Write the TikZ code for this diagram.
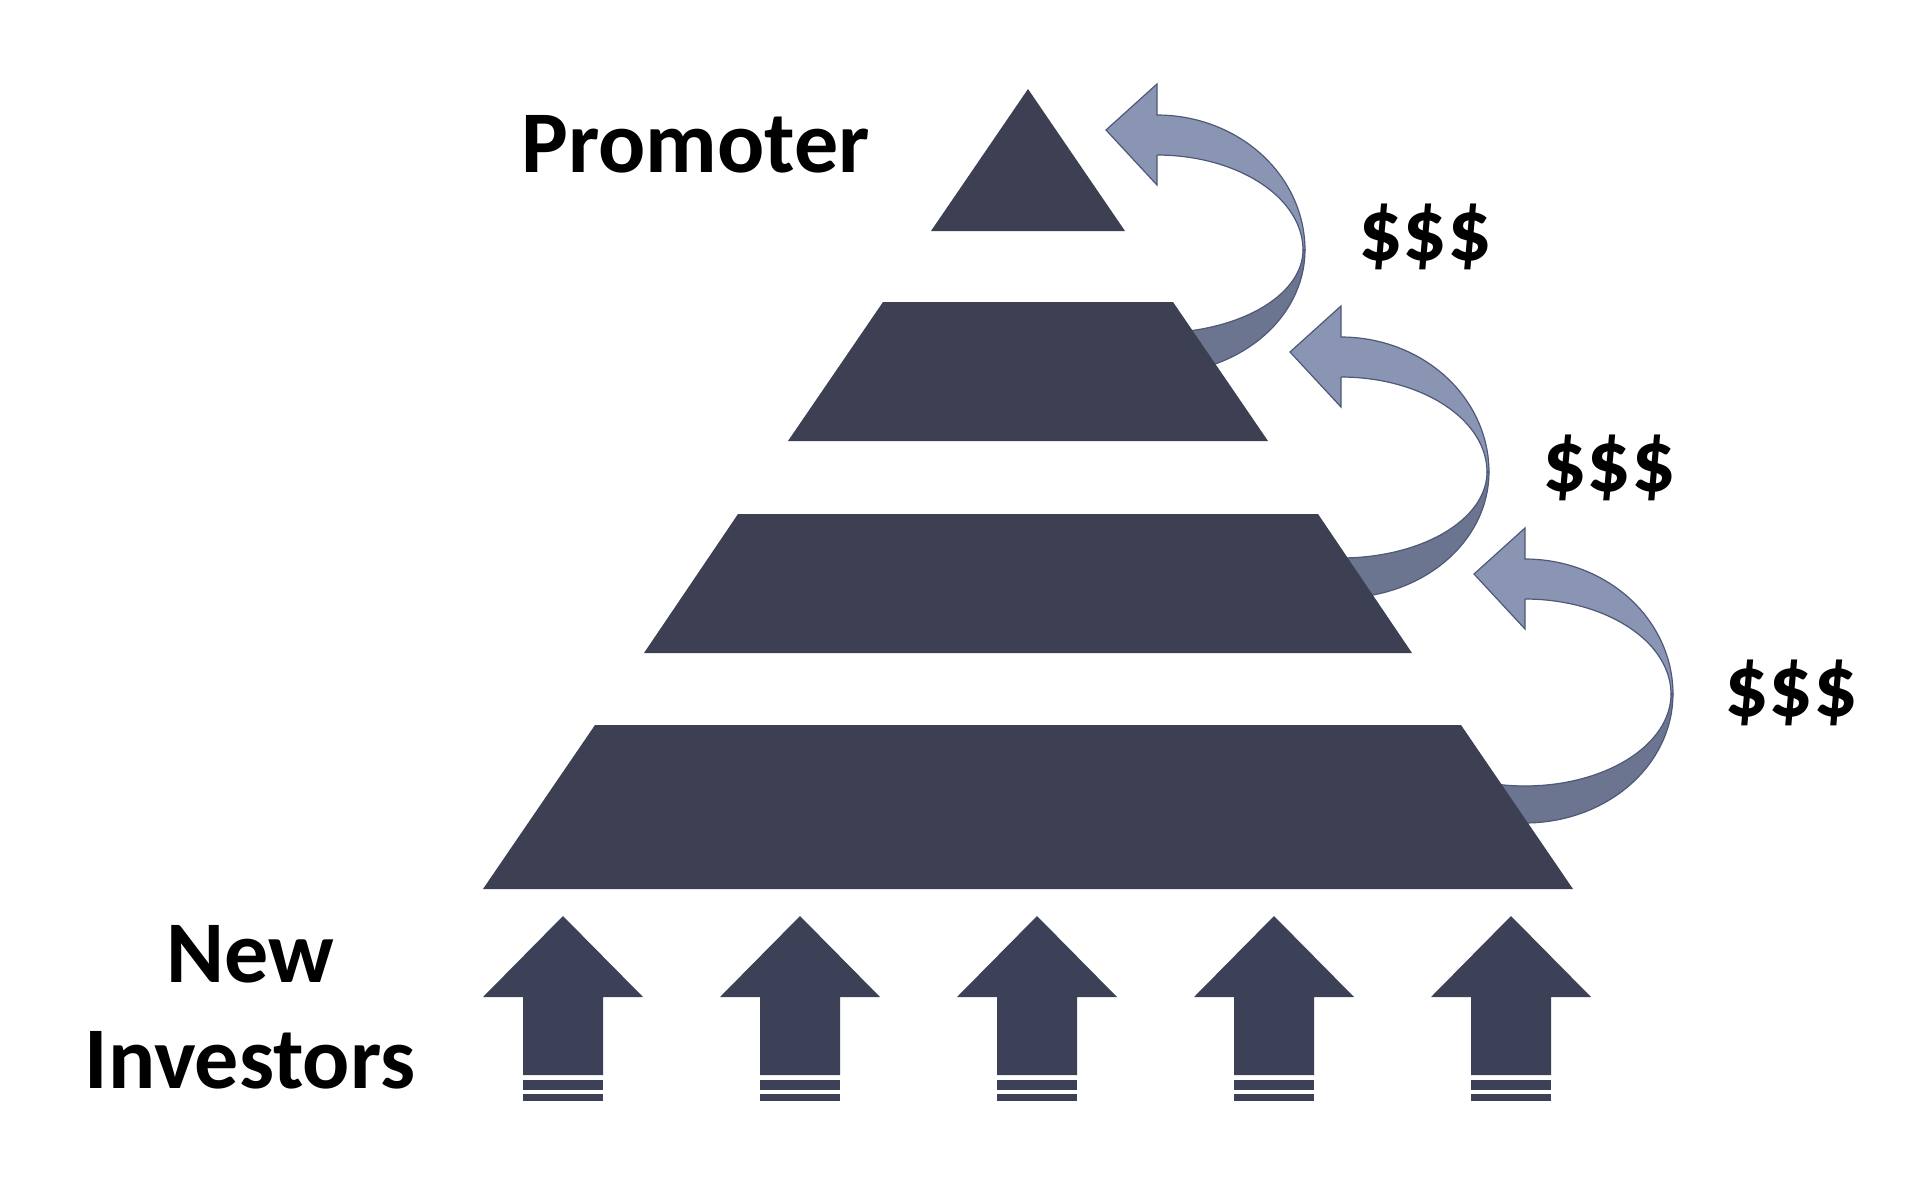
\documentclass[tikz,border=0pt]{standalone}
\usepackage{fontspec}
\setmainfont{Carlito}
\definecolor{tiercol}{HTML}{3C4052}
\definecolor{arrowcol}{HTML}{3C4157}
\definecolor{bandtop}{HTML}{8A95B3}
\definecolor{bandlow}{HTML}{6C7590}
\definecolor{bandline}{HTML}{4E5878}
\begin{document}
\begin{tikzpicture}[x=0.5pt, y=-0.5pt,
			tier/.style={fill=tiercol},
			upshape/.style={fill=arrowcol},
			bandfront/.style={fill=bandtop, draw=bandline, line width=0.6pt},
			bandback/.style={fill=bandlow, draw=bandline, line width=0.6pt},
			lbl/.style={font=\fontsize{44}{53}\selectfont\bfseries, inner sep=0pt}]
			\useasboundingbox[fill=white] (0,0) rectangle (1908,1184);
			
			\foreach \cx/\cy/\ro/\ri in {1157/250/124/83, 1341/472/126/86, 1525/694/129/92} {
				\filldraw[bandback] plot[domain=0:112, samples=40] ({\cx+148*cos(\x)}, {\cy+\ro*sin(\x)}) -- plot[domain=112:0, samples=40] ({\cx+146*cos(\x)}, {\cy+\ri*sin(\x)}) -- cycle;
				\filldraw[bandfront] ({\cx},{\cy-95}) -- ({\cx},{\cy-65}) -- ({\cx-51},{\cy-120}) -- ({\cx},{\cy-166}) -- ({\cx},{\cy-135}) -- plot[domain=-90:0, samples=40] ({\cx+148*cos(\x)}, {\cy+135*sin(\x)}) -- plot[domain=0:-90, samples=40] ({\cx+146*cos(\x)}, {\cy+95*sin(\x)}) -- cycle;
			}
			
			\fill[tier] (1028,89) -- (1125,231) -- (931,231) -- cycle;
			\fill[tier] (883,302) -- (1173,302) -- (1268,441) -- (788,441) -- cycle;
			\fill[tier] (738,514) -- (1318,514) -- (1412,653) -- (644,653) -- cycle;
			\fill[tier] (595,725) -- (1461,725) -- (1573,889) -- (483,889) -- cycle;
			
			\foreach \ax in {563,800,1037,1274,1511} {
				\fill[upshape] (\ax,916) -- ({\ax+80},997) -- ({\ax+40},997) -- ({\ax+40},1075) -- ({\ax-40},1075) -- ({\ax-40},997) -- ({\ax-80},997) -- cycle;
				\fill[upshape] ({\ax-40},1080) rectangle ({\ax+40},1090);
				\fill[upshape] ({\ax-40},1094) rectangle ({\ax+40},1101);
			}
			
			\node[lbl, anchor=base west](promoter) at (521,172) {Promoter};
			\node[lbl, anchor=base](newlbl) at (250,982) {New};
			\node[lbl, anchor=base](investors) at (250,1088) {Investors};
			\node[lbl, anchor=base](dollar1) at (1425,260) {\$\$\$};
			\node[lbl, anchor=base](dollar2) at (1609,491) {\$\$\$};
			\node[lbl, anchor=base](dollar3) at (1791,716) {\$\$\$};
			\end{tikzpicture}
\end{document}
